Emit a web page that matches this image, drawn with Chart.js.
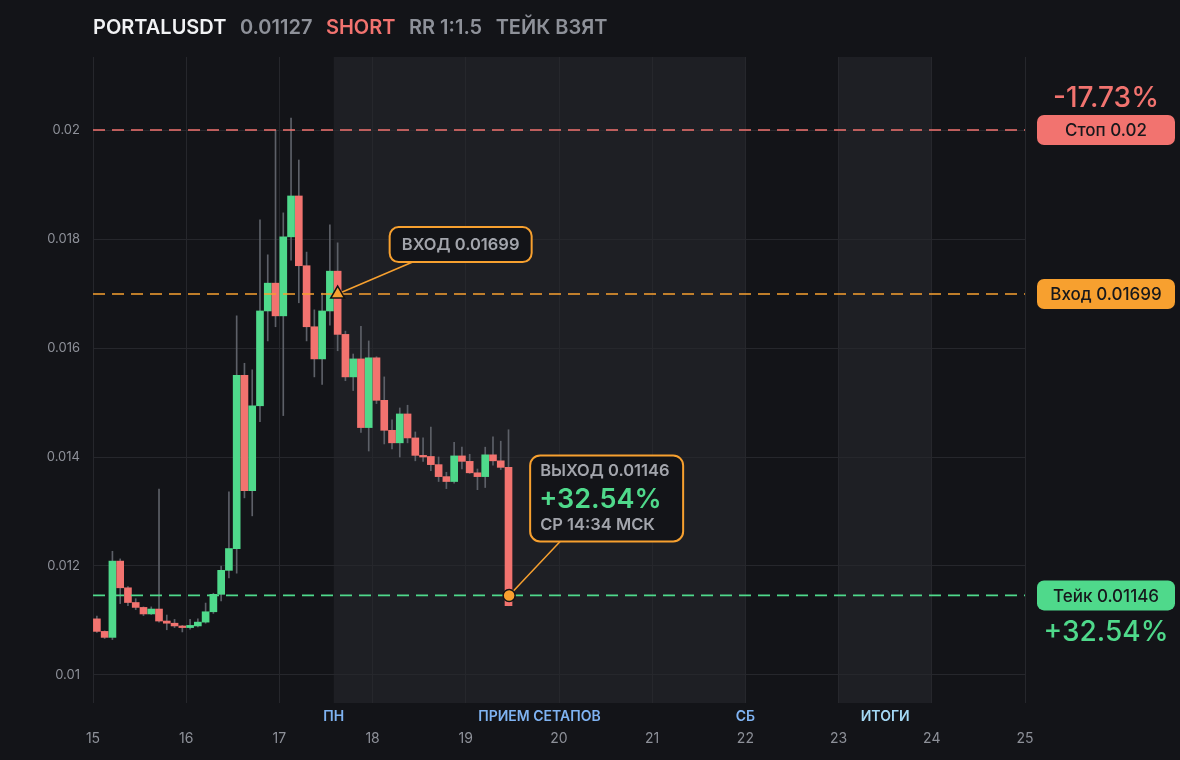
<!DOCTYPE html>
<html>
<head>
<meta charset="utf-8">
<script src="https://cdn.jsdelivr.net/npm/chart.js@4.4.1/dist/chart.umd.min.js"></script>
<style>
html, body { margin: 0; padding: 0; background: #131418; }
#wrap { width: 1180px; height: 760px; position: relative; }
</style>
</head>
<body>
<div id="wrap"><canvas id="chart"></canvas></div>
<script>
// 2h candles, first one opens 15th 00:00
const firstDay = 15;
const candleHours = 2;
const opens  = [0.01103,0.01080,0.01069,0.01209,0.01160,0.01133,0.01124,0.01112,0.01121,0.01099,
                0.01095,0.01090,0.01087,0.01090,0.01097,0.01116,0.01148,0.01192,0.01232,0.01550,
                0.01338,0.01494,0.01668,0.01719,0.01659,0.01804,0.01879,0.01751,0.01639,0.01580,
                0.01668,0.01741,0.01625,0.01547,0.01580,0.01454,0.01582,0.01504,0.01449,0.01426,
                0.01479,0.01435,0.01403,0.01401,0.01386,0.01364,0.01355,0.01402,0.01392,0.01371,
                0.01364,0.01404,0.01393,0.01381];
const highs  = [0.01108,0.01081,0.01227,0.01213,0.01162,0.01140,0.01125,0.01125,0.01341,0.01110,
                0.01102,0.01091,0.01102,0.01103,0.01132,0.01150,0.01200,0.01336,0.01659,0.01572,
                0.01560,0.01835,0.01771,0.02000,0.01848,0.02022,0.01945,0.01776,0.01670,0.01701,
                0.01826,0.01793,0.01631,0.01589,0.01640,0.01613,0.01584,0.01547,0.01468,0.01490,
                0.01495,0.01446,0.01435,0.01455,0.01400,0.01372,0.01427,0.01418,0.01405,0.01378,
                0.01418,0.01437,0.01429,0.01450];
const lows   = [0.01078,0.01067,0.01065,0.01131,0.01127,0.01120,0.01109,0.01111,0.01097,0.01083,
                0.01087,0.01079,0.01084,0.01088,0.01095,0.01113,0.01136,0.01178,0.01187,0.01325,
                0.01292,0.01465,0.01613,0.01639,0.01476,0.01761,0.01683,0.01613,0.01547,0.01533,
                0.01642,0.01595,0.01540,0.01522,0.01445,0.01411,0.01498,0.01424,0.01415,0.01400,
                0.01426,0.01393,0.01392,0.01375,0.01355,0.01342,0.01352,0.01378,0.01370,0.01340,
                0.01344,0.01385,0.01377,0.01127];
const closes = [0.01080,0.01069,0.01209,0.01160,0.01133,0.01124,0.01112,0.01121,0.01099,0.01095,
                0.01090,0.01087,0.01091,0.01097,0.01116,0.01148,0.01192,0.01232,0.01550,0.01338,
                0.01494,0.01668,0.01719,0.01659,0.01804,0.01879,0.01751,0.01639,0.01580,0.01668,
                0.01741,0.01625,0.01547,0.01580,0.01454,0.01582,0.01504,0.01449,0.01426,0.01479,
                0.01435,0.01403,0.01400,0.01386,0.01364,0.01355,0.01402,0.01392,0.01371,0.01364,
                0.01404,0.01393,0.01381,0.01127];

const dayTicks = [15, 16, 17, 18, 19, 20, 21, 22, 23, 24, 25];
const priceTicks = [0.01, 0.012, 0.014, 0.016, 0.018, 0.02];

// уровни сделки
const levelPrices = [0.02, 0.01699, 0.01146];
const levelNames = ["Стоп 0.02", "Вход 0.01699", "Тейк 0.01146"];
const stopPct = "-17.73%";
const takePct = "+32.54%";
const entryDay = 17.625, entryPrice = 0.01699;
const exitDay = 19.465, exitPrice = 0.01146;

// недельные зоны
const bandStarts = [17.583, 23];
const bandEnds = [22, 24];
const markNames = ["ПН", "ПРИЕМ СЕТАПОВ", "СБ", "ИТОГИ"];
const markDays = [17.583, 19.79, 22, 23.5];

const BG = "#131418", BAND = "#1e1f24", GRID = "#26272c";
const GRAY = "#8e9199", RED = "#f2736f", GREEN = "#4fd98b", ORANGE = "#f7a02f";
const levelColors = [RED, ORANGE, GREEN];
const markColors = ["#7fb3f2", "#7fb3f2", "#7fb3f2", "#a4d9f5"];

Chart.defaults.font.family = "Inter";

const candleX = i => firstDay + (i * candleHours + candleHours / 2) / 24;
const wicks = opens.map((o, i) => ({ x: candleX(i), y: [lows[i], highs[i]] }));
const bodies = opens.map((o, i) => ({ x: candleX(i), y: [o, closes[i]] }));
const bodyColors = opens.map((o, i) => closes[i] >= o ? GREEN : RED);

const levelSets = levelPrices.map((p, i) => ({
    type: "line",
    data: [{ x: dayTicks[0], y: p }, { x: dayTicks[dayTicks.length - 1], y: p }],
    borderColor: levelColors[i],
    borderWidth: 1.6,
    borderDash: [12, 7],
    pointRadius: 0,
    order: 3
}));

function roundBox(ctx, x, y, w, h, r, fill, stroke) {
    ctx.beginPath();
    ctx.roundRect(x, y, w, h, r);
    ctx.fillStyle = fill;
    ctx.fill();
    if (stroke) {
        ctx.lineWidth = 2;
        ctx.strokeStyle = stroke;
        ctx.stroke();
    }
}

const overlay = {
    id: "overlay",
    beforeDraw(chart) {
        const { ctx, chartArea: a, scales: { x } } = chart;
        ctx.save();
        ctx.fillStyle = BG;
        ctx.fillRect(0, 0, chart.width, chart.height);
        ctx.fillStyle = BAND;
        bandStarts.forEach((s, i) => {
            const x0 = x.getPixelForValue(s), x1 = x.getPixelForValue(bandEnds[i]);
            ctx.fillRect(x0, a.top, x1 - x0, a.bottom - a.top);
        });
        // заголовок
        const parts = [["PORTALUSDT", "#f1f2f4"], ["0.01127", GRAY], ["SHORT", RED], ["RR 1:1.5", GRAY], ["ТЕЙК ВЗЯТ", GRAY]];
        ctx.font = "600 20px Inter";
        ctx.textBaseline = "middle";
        let hx = a.left;
        parts.forEach(([t, c]) => {
            ctx.fillStyle = c;
            ctx.fillText(t, hx, 28);
            hx += ctx.measureText(t).width + 13.5;
        });
        ctx.restore();
    },
    beforeDatasetsDraw(chart) {
        const { ctx, scales: { x, y } } = chart;
        ctx.save();
        ctx.strokeStyle = ORANGE;
        ctx.lineWidth = 1.5;
        const ex = x.getPixelForValue(entryDay), ey = y.getPixelForValue(entryPrice);
        ctx.beginPath(); ctx.moveTo(ex, ey); ctx.lineTo(ex + 75, ey - 32); ctx.stroke();
        const qx = x.getPixelForValue(exitDay), qy = y.getPixelForValue(exitPrice);
        ctx.beginPath(); ctx.moveTo(qx, qy); ctx.lineTo(qx + 51, qy - 54); ctx.stroke();
        ctx.restore();
    },
    afterDraw(chart) {
        const { ctx, chartArea: a, scales: { x, y } } = chart;
        ctx.save();
        ctx.textBaseline = "middle";
        // подписи зон
        ctx.font = "600 14px Inter";
        ctx.textAlign = "center";
        markNames.forEach((m, i) => {
            ctx.fillStyle = markColors[i];
            ctx.fillText(m, x.getPixelForValue(markDays[i]), 717);
        });
        // плашки уровней справа
        const px = a.right + 12, pw = 138, ph = 30;
        levelPrices.forEach((p, i) => {
            const py = y.getPixelForValue(p);
            roundBox(ctx, px, py - ph / 2, pw, ph, 7, levelColors[i]);
            ctx.fillStyle = "#17181c";
            ctx.font = "500 17px Inter";
            ctx.fillText(levelNames[i], px + pw / 2, py + 1);
        });
        ctx.font = "500 28px Inter";
        ctx.fillStyle = RED;
        ctx.fillText(stopPct, px + pw / 2, y.getPixelForValue(levelPrices[0]) - 31);
        ctx.fillStyle = GREEN;
        ctx.fillText(takePct, px + pw / 2, y.getPixelForValue(levelPrices[2]) + 37);

        // вход
        const ex = x.getPixelForValue(entryDay), ey = y.getPixelForValue(entryPrice);
        roundBox(ctx, ex + 52, ey - 67, 142, 35, 9, BG, ORANGE);
        ctx.fillStyle = "#a3a5ac";
        ctx.font = "600 16.5px Inter";
        ctx.fillText("ВХОД 0.01699", ex + 52 + 71, ey - 49);

        // выход
        const qx = x.getPixelForValue(exitDay), qy = y.getPixelForValue(exitPrice);
        roundBox(ctx, qx + 21, qy - 140, 153, 86, 10, BG, ORANGE);
        ctx.textAlign = "left";
        ctx.fillStyle = "#a3a5ac";
        ctx.font = "600 16.5px Inter";
        ctx.fillText("ВЫХОД 0.01146", qx + 31, qy - 124);
        ctx.fillText("СР 14:34 МСК", qx + 31, qy - 70);
        ctx.fillStyle = GREEN;
        ctx.font = "600 27px Inter";
        ctx.fillText("+32.54%", qx + 30, qy - 96);
        ctx.restore();
    }
};

new Chart(document.getElementById("chart"), {
    type: "bar",
    data: {
        datasets: [
            {
                data: wicks,
                backgroundColor: "#5d6068",
                barThickness: 1,
                grouped: false,
                order: 5
            },
            {
                data: bodies,
                backgroundColor: bodyColors,
                barThickness: 7,
                minBarLength: 1.5,
                grouped: false,
                order: 4
            },
            ...levelSets,
            {
                type: "scatter",
                data: [{ x: entryDay, y: entryPrice }],
                pointStyle: "triangle",
                pointRadius: 8,
                backgroundColor: ORANGE,
                borderColor: "#111216",
                borderWidth: 1.5,
                order: 1
            },
            {
                type: "scatter",
                data: [{ x: exitDay, y: exitPrice }],
                pointStyle: "circle",
                pointRadius: 6,
                backgroundColor: ORANGE,
                borderColor: "#111216",
                borderWidth: 1.5,
                order: 1
            }
        ]
    },
    options: {
        responsive: true,
        maintainAspectRatio: false,
        animation: false,
        layout: { padding: { left: 0, right: 155, top: 57, bottom: 0 } },
        plugins: { legend: { display: false }, tooltip: { enabled: false } },
        scales: {
            x: {
                type: "linear",
                offset: false,
                min: dayTicks[0],
                max: dayTicks[dayTicks.length - 1],
                afterFit: s => { s.height = 57; },
                afterBuildTicks: s => { s.ticks = dayTicks.map(v => ({ value: v })); },
                grid: { color: GRID, drawTicks: false, offset: false },
                border: { display: false },
                ticks: { color: GRAY, font: { size: 14 }, padding: 27, maxRotation: 0 }
            },
            y: {
                min: 0.009486,
                max: 0.02134,
                afterFit: s => { s.width = 93; },
                afterBuildTicks: s => { s.ticks = priceTicks.map(v => ({ value: v })); },
                grid: { color: GRID, drawTicks: false },
                border: { display: false },
                ticks: { color: GRAY, font: { size: 13 }, padding: 13, callback: v => String(+v.toFixed(3)) }
            }
        }
    },
    plugins: [overlay]
});
</script>
</body>
</html>
